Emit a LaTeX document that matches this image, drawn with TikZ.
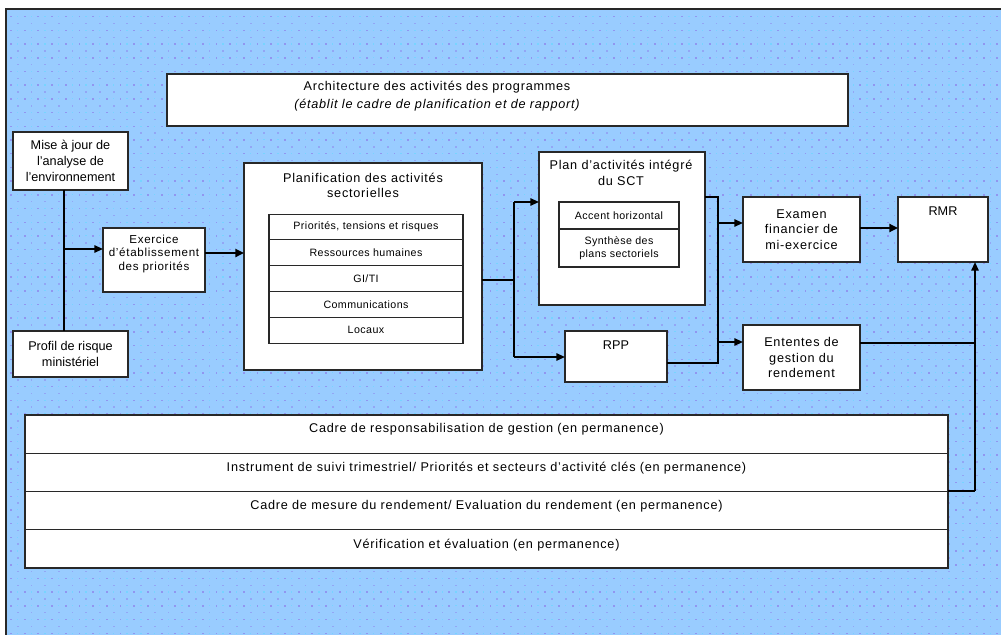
\documentclass[tikz,border=0pt]{standalone}
\usepackage{fontspec}
\setmainfont{Liberation Sans}
\usetikzlibrary{arrows.meta}
\definecolor{bg}{RGB}{153,204,255}
\definecolor{dotp}{RGB}{145,150,240}
\definecolor{dotc}{RGB}{120,212,255}
\definecolor{edge}{RGB}{40,40,40}
\begin{document}
\begin{tikzpicture}[x=0.75pt,y=-0.75pt,
  box/.style={draw=edge, line width=0.8pt, fill=white, inner sep=0pt, outer sep=0pt},
  txt/.style={font=\fontsize{9.5}{11.8}\selectfont\addfontfeatures{LetterSpace=6}, align=center, inner sep=0pt},
  ltxt/.style={font=\fontsize{9.5}{11.8}\selectfont, align=center, inner sep=0pt},
  stxt/.style={font=\fontsize{8}{9.75}\selectfont\addfontfeatures{LetterSpace=4}, align=center, inner sep=0pt},
  etxt/.style={font=\fontsize{8.7}{9.9}\selectfont\addfontfeatures{LetterSpace=6}, align=center, inner sep=0pt},
  link/.style={draw=black, line width=0.8pt},
  arr/.style={draw=black, line width=1.3pt, -{Triangle[length=6.5pt,width=5.5pt]}},
  fatarr/.style={draw=black, line width=2pt, -{Triangle[length=6.5pt,width=6pt]}},
]
\useasboundingbox (0,0) rectangle (1001,635);
% background
\fill[white] (-5,-5) rectangle (1010,645);
\fill[bg] (6,9) rectangle (1010,645);
\foreach \i in {0,...,72} {\foreach \j in {0,...,45} {
  \fill[dotp] ({10+\i*13.7},{16+\j*13.7}) rectangle +(1.8,1.5);
  \fill[dotp!70!bg] ({16.85+\i*13.7},{22.85+\j*13.7}) rectangle +(1.8,1.5);
  \fill[dotc] ({16.85+\i*13.7},{16+\j*13.7}) rectangle +(1.4,1.2);
}}
\draw[edge, line width=1.1pt] (6,645) -- (6,9) -- (1010,9);

% top box
\node[box, minimum width=510.75pt, minimum height=39pt] (arch) at (507.5,100) {};
\node[txt] (archA) at (437,87) {Architecture des activités des programmes};
\node[txt, font=\fontsize{9.5}{11.8}\itshape\selectfont\addfontfeatures{LetterSpace=6}] (archB) at (437,105) {(établit le cadre de planification et de rapport)};

% left column
\node[box, ltxt, minimum width=86.25pt, minimum height=43.5pt] (mise) at (70.5,161) {Mise à jour de\\l'analyse de\\l'environnement};
\node[box, ltxt, minimum width=86.25pt, minimum height=34.5pt] (profil) at (70.5,354) {Profil de risque\\ministériel};
\node[box, minimum width=76.5pt, minimum height=48pt] (exer) at (154,260) {};
\node[etxt] (exerT) at (154,254) {Exercice\\d'établissement\\des priorités};

% planification
\node[box, minimum width=178.5pt, minimum height=155.25pt] (plan) at (363,266.5) {};
\node[txt] (planT) at (363,185.5) {Planification des activités\\sectorielles};
\node[box, stxt, minimum width=145.5pt, minimum height=19.35pt] (r1) at (366,227.0) {Priorités, tensions et risques};
\node[box, stxt, minimum width=145.5pt, minimum height=19.35pt] (r2) at (366,252.8) {Ressources humaines};
\node[box, stxt, minimum width=145.5pt, minimum height=19.35pt] (r3) at (366,278.6) {GI/TI};
\node[box, stxt, minimum width=145.5pt, minimum height=19.35pt] (r4) at (366,304.4) {Communications};
\node[box, stxt, minimum width=145.5pt, minimum height=19.35pt] (r5) at (366,330.2) {Locaux};

% plan d'activites
\node[box, minimum width=124.5pt, minimum height=114.75pt] (pact) at (622,228.5) {};
\node[txt] (pactT) at (621,173) {Plan d'activités intégré\\du SCT};
\node[box, stxt, minimum width=90pt, minimum height=20.25pt] (pa1) at (619,215.5) {Accent horizontal};
\node[box, stxt, minimum width=90pt, minimum height=28.5pt] (pa2) at (619,248) {Synthèse des\\plans sectoriels};

\node[box, minimum width=76.5pt, minimum height=38.25pt] (rpp) at (616,356.5) {};
\node[ltxt] (rppT) at (616,345) {RPP};

% right column
\node[box, txt, minimum width=87.75pt, minimum height=48.75pt] (exam) at (801.5,229.5) {Examen\\financier de\\mi-exercice};
\node[box, minimum width=67.5pt, minimum height=48.75pt] (rmr) at (943,229.5) {};
\node[ltxt] (rmrT) at (943,211) {RMR};
\node[box, txt, minimum width=87.75pt, minimum height=48.75pt] (ent) at (801.5,357.5) {Ententes de\\gestion du\\rendement};

% bottom table
\node[box, minimum width=692.25pt, minimum height=28.69pt] (b1) at (486.5,434.1) {};
\node[box, minimum width=692.25pt, minimum height=28.69pt] (b2) at (486.5,472.4) {};
\node[box, minimum width=692.25pt, minimum height=28.69pt] (b3) at (486.5,510.6) {};
\node[box, minimum width=692.25pt, minimum height=28.69pt] (b4) at (486.5,548.9) {};
\node[txt] (b1T) at (486.5,429) {Cadre de responsabilisation de gestion (en permanence)};
\node[txt] (b2T) at (486.5,468) {Instrument de suivi trimestriel/ Priorités et secteurs d'activité clés (en permanence)};
\node[txt] (b3T) at (486.5,506) {Cadre de mesure du rendement/ Evaluation du rendement (en permanence)};
\node[txt] (b4T) at (486.5,545) {Vérification et évaluation (en permanence)};

% connectors
\coordinate (j1) at (64,249);
\draw[link] (mise.south -| j1) -- (profil.north -| j1);
\draw[arr] (j1) -- (j1 -| exer.west);
\coordinate (j2) at (0,253);
\draw[fatarr] (exer.east |- j2) -- (plan.west |- j2);

\coordinate (s1) at (514,280);
\coordinate (s1t) at (514,202);
\coordinate (s1b) at (514,357);
\draw[link] (plan.east |- s1) -- (s1);
\draw[link, line width=1.1pt] (s1t) -- (s1b);
\draw[arr] (s1t) -- (s1t -| pact.west);
\draw[arr] (s1b) -- (s1b -| rpp.west);

\coordinate (s2t) at (718,197);
\coordinate (s2b) at (718,363);
\draw[link, line width=1.1pt] (pact.east |- s2t) -- (s2t) -- (s2b) -- (rpp.east |- s2b);
\coordinate (e1) at (718,223);
\coordinate (e2) at (718,342);
\draw[arr] (e1) -- (e1 -| exam.west);
\draw[arr] (e2) -- (e2 -| ent.west);
\coordinate (m1) at (0,228);
\draw[fatarr] (exam.east |- m1) -- (rmr.west |- m1);

\coordinate (v1) at (975,343);
\coordinate (v2) at (975,491);
\draw[link] (ent.east |- v1) -- (v1);
\draw[link, line width=1.1pt] (b2.east |- v2) -- (v2);
\draw[arr] (v2) -- (v2 |- rmr.south);
\end{tikzpicture}
\end{document}
